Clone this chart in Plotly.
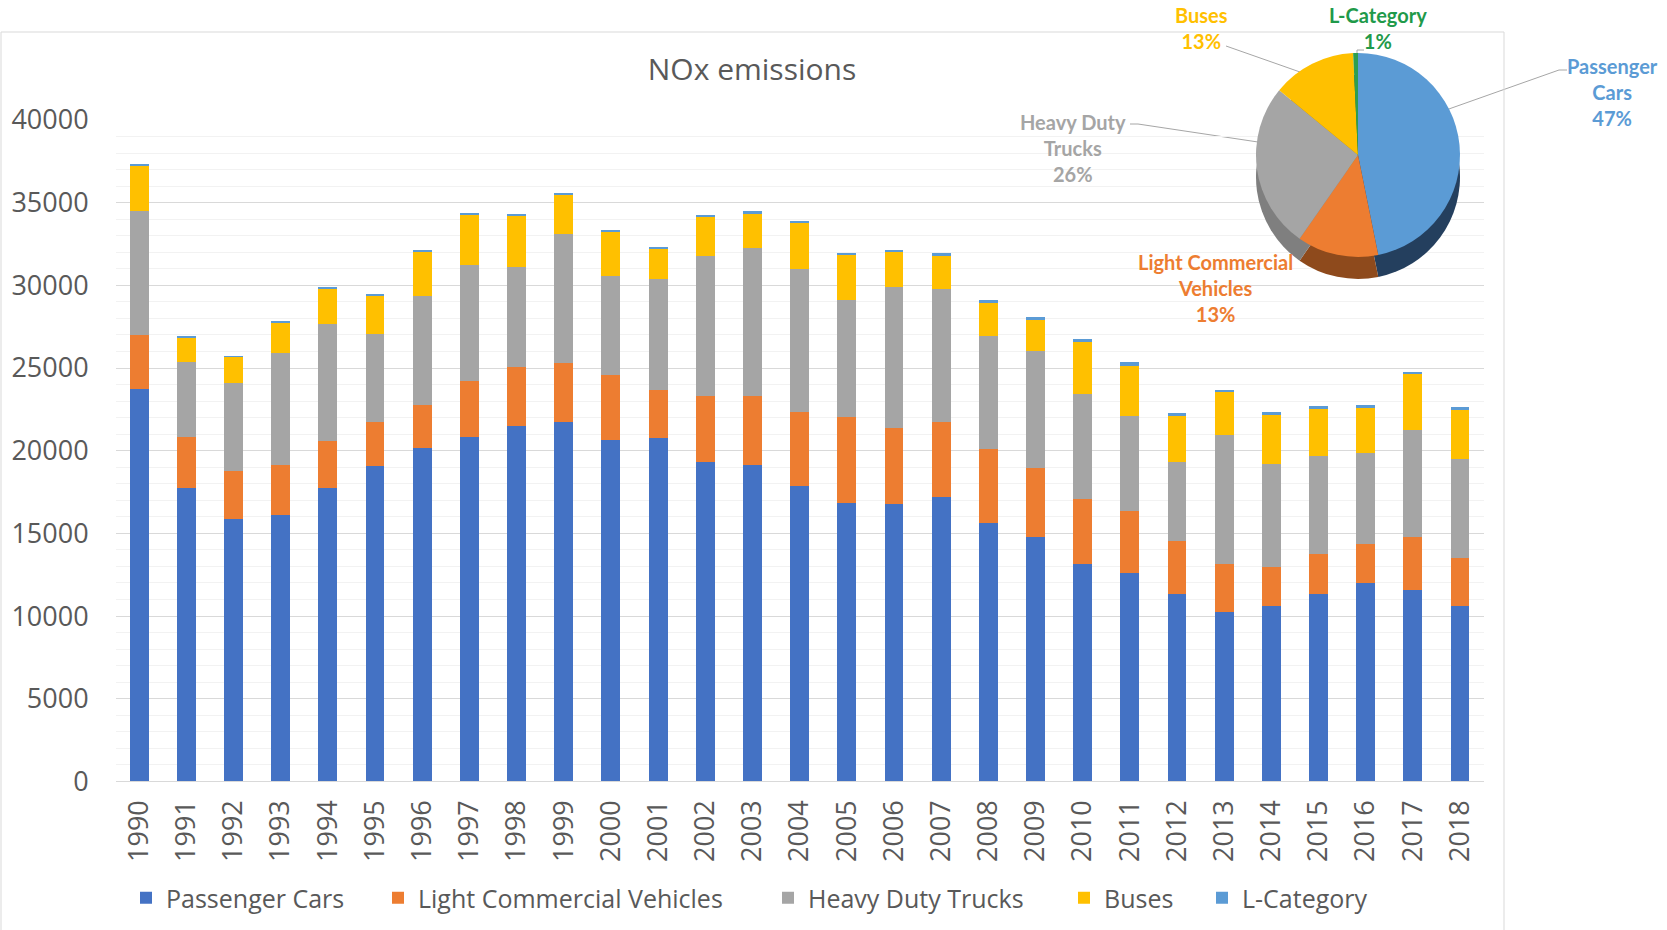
import plotly.graph_objects as go

# ---------------- data ----------------
years = ["1990", "1991", "1992", "1993", "1994", "1995", "1996", "1997", "1998", "1999",
         "2000", "2001", "2002", "2003", "2004", "2005", "2006", "2007", "2008", "2009",
         "2010", "2011", "2012", "2013", "2014", "2015", "2016", "2017", "2018"]

passenger_cars = [23750, 17750, 15890, 16110, 17750, 19060, 20170, 20830, 21470, 21720,
                  20650, 20770, 19330, 19120, 17870, 16820, 16770, 17200, 15620, 14790,
                  13160, 12620, 11360, 10260, 10610, 11320, 11970, 11580, 10610]
light_commercial = [3250, 3080, 2890, 3030, 2860, 2660, 2610, 3360, 3590, 3590,
                    3920, 2910, 4000, 4210, 4450, 5190, 4620, 4520, 4480, 4160,
                    3890, 3720, 3190, 2900, 2360, 2450, 2400, 3230, 2920]
heavy_duty = [7500, 4530, 5300, 6750, 7080, 5340, 6550, 7030, 6080, 7800,
              6000, 6700, 8460, 8940, 8690, 7110, 8540, 8040, 6860, 7100,
              6350, 5760, 4760, 7770, 6230, 5880, 5480, 6470, 5950]
buses = [2720, 1500, 1590, 1890, 2120, 2330, 2730, 3060, 3080, 2390,
         2680, 1870, 2350, 2060, 2790, 2720, 2080, 2030, 1960, 1870,
         3200, 3050, 2790, 2620, 2940, 2900, 2750, 3350, 3010]
l_category = [80, 83, 55, 83, 83, 83, 83, 83, 80, 80,
              70, 70, 95, 140, 120, 96, 143, 144, 190, 167,
              170, 216, 151, 130, 195, 130, 152, 152, 173]

series_names = ["Passenger Cars", "Light Commercial Vehicles", "Heavy Duty Trucks",
                "Buses", "L-Category"]
series_values = [passenger_cars, light_commercial, heavy_duty, buses, l_category]
bar_colors = ["#4472C4", "#ED7D31", "#A5A5A5", "#FFC000", "#5B9BD5"]

y_ticks = [0, 5000, 10000, 15000, 20000, 25000, 30000, 35000, 40000]

# pie (shares of the last year)
pie_labels_text = ["Passenger<br>Cars", "Light Commercial<br>Vehicles",
                   "Heavy Duty<br>Trucks", "Buses", "L-Category"]
pie_colors = ["#5B9BD5", "#ED7D31", "#A5A5A5", "#FFC000", "#2E9E4F"]
pie_side_colors = ["#243F5E", "#8E4A1C", "#7F7F7F", "#B38700", "#1E6B3A"]
pie_text_colors = ["#5B9BD5", "#ED7D31", "#A5A5A5", "#FFC000", "#1F9A4A"]

# ---------------- layout helpers ----------------
W, H = 1667, 930
def px(x):
    return x / W
def py(y):
    return 1 - y / H

X_LEFT, X_RIGHT = 115.6, 1483.6
Y_TOP, Y_BOT = 120.0, 781.4

fig = go.Figure()

legend_ids = ["legend", "legend2", "legend3", "legend4", "legend5"]
legend_x = [141, 393, 783, 1079, 1217]

for name, vals, col, lid in zip(series_names, series_values, bar_colors, legend_ids):
    fig.add_trace(go.Bar(x=years, y=vals, name=name, legend=lid,
                         marker=dict(color=col, line=dict(width=0))))

pie_values = [v[-1] for v in series_values]
total = sum(pie_values)

# pie "side" (pseudo-3D) and top face
cx, cy, R, depth = 1358, 155, 102, 22
fig.add_trace(go.Pie(values=pie_values, labels=series_names, sort=False, direction="clockwise",
                     rotation=0, textinfo="none", showlegend=False, hoverinfo="skip",
                     marker=dict(colors=pie_side_colors),
                     domain=dict(x=[px(cx - R), px(cx + R)], y=[py(cy + depth + R), py(cy + depth - R)])))
fig.add_trace(go.Pie(values=pie_values, labels=series_names, sort=False, direction="clockwise",
                     rotation=0, textinfo="none", showlegend=False,
                     marker=dict(colors=pie_colors),
                     domain=dict(x=[px(cx - R), px(cx + R)], y=[py(cy + R), py(cy - R)])))

label_pos = [(1612, 92), (1215, 288), (1073, 148), (1201, 28), (1378, 28)]
annotations = []
for txt, v, col, (lx, ly) in zip(pie_labels_text, pie_values, pie_text_colors, label_pos):
    annotations.append(dict(x=px(lx), y=py(ly), xref="paper", yref="paper",
                            xanchor="center", yanchor="middle",
                            text="<b>%s<br>%d%%</b>" % (txt, round(v / total * 100)),
                            showarrow=False, align="center",
                            font=dict(family="Lato", size=20, color=col)))

leaders = [
    [(1567, 70), (1559, 70), (1446, 110)],
    [(1226, 46), (1300, 72)],
    [(1130, 124), (1138, 124), (1258, 142)],
    [(1364, 50), (1357, 50), (1357, 54)],
]
shapes = []
for pts in leaders:
    for (x0, y0), (x1, y1) in zip(pts[:-1], pts[1:]):
        shapes.append(dict(type="line", xref="paper", yref="paper", x0=px(x0), y0=py(y0),
                           x1=px(x1), y1=py(y1), line=dict(color="#A6A6A6", width=1), layer="below"))
# chart area border
shapes.append(dict(type="rect", xref="paper", yref="paper", x0=px(1), x1=px(1504),
                   y0=-0.01, y1=py(32), line=dict(color="#D9D9D9", width=1), layer="below"))

legends = {}
for lid, lx in zip(legend_ids, legend_x):
    legends[lid] = dict(orientation="h", x=px(lx - 15), y=py(898), xanchor="left", yanchor="middle",
                        font=dict(family="Open Sans", size=25, color="#595959"),
                        bgcolor="rgba(0,0,0,0)")

fig.update_layout(
    width=W, height=H,
    margin=dict(l=0, r=0, t=0, b=0, autoexpand=False),
    paper_bgcolor="white", plot_bgcolor="white",
    barmode="stack", bargap=0.6,
    font=dict(family="Open Sans", color="#595959"),
    title=dict(text="NOx emissions", x=px(752), y=py(69), xref="paper", yref="paper",
               xanchor="center", yanchor="middle",
               font=dict(family="Open Sans", size=30, color="#595959")),
    xaxis=dict(domain=[px(X_LEFT), px(X_RIGHT)], type="category", tickangle=-90,
               tickfont=dict(size=27, color="#595959"), showgrid=False, automargin=False,
               showline=True, linecolor="#D9D9D9", linewidth=1, ticks="",
               ticklabelstandoff=7),
    yaxis=dict(domain=[py(Y_BOT), py(Y_TOP)], range=[0, 40000], tickvals=y_ticks,
               tickformat="d", tickfont=dict(size=27, color="#595959"), automargin=False,
               showgrid=True, gridcolor="#D9D9D9", gridwidth=1, zeroline=False,
               showline=False, ticks="", ticklabelstandoff=26,
               minor=dict(dtick=1000, showgrid=True, gridcolor="#F2F2F2", gridwidth=1)),
    annotations=annotations,
    shapes=shapes,
    **legends,
)

fig.write_html("out.html", config={"displayModeBar": False},
               post_script="document.body.style.margin='0';document.body.style.overflow='hidden';")
